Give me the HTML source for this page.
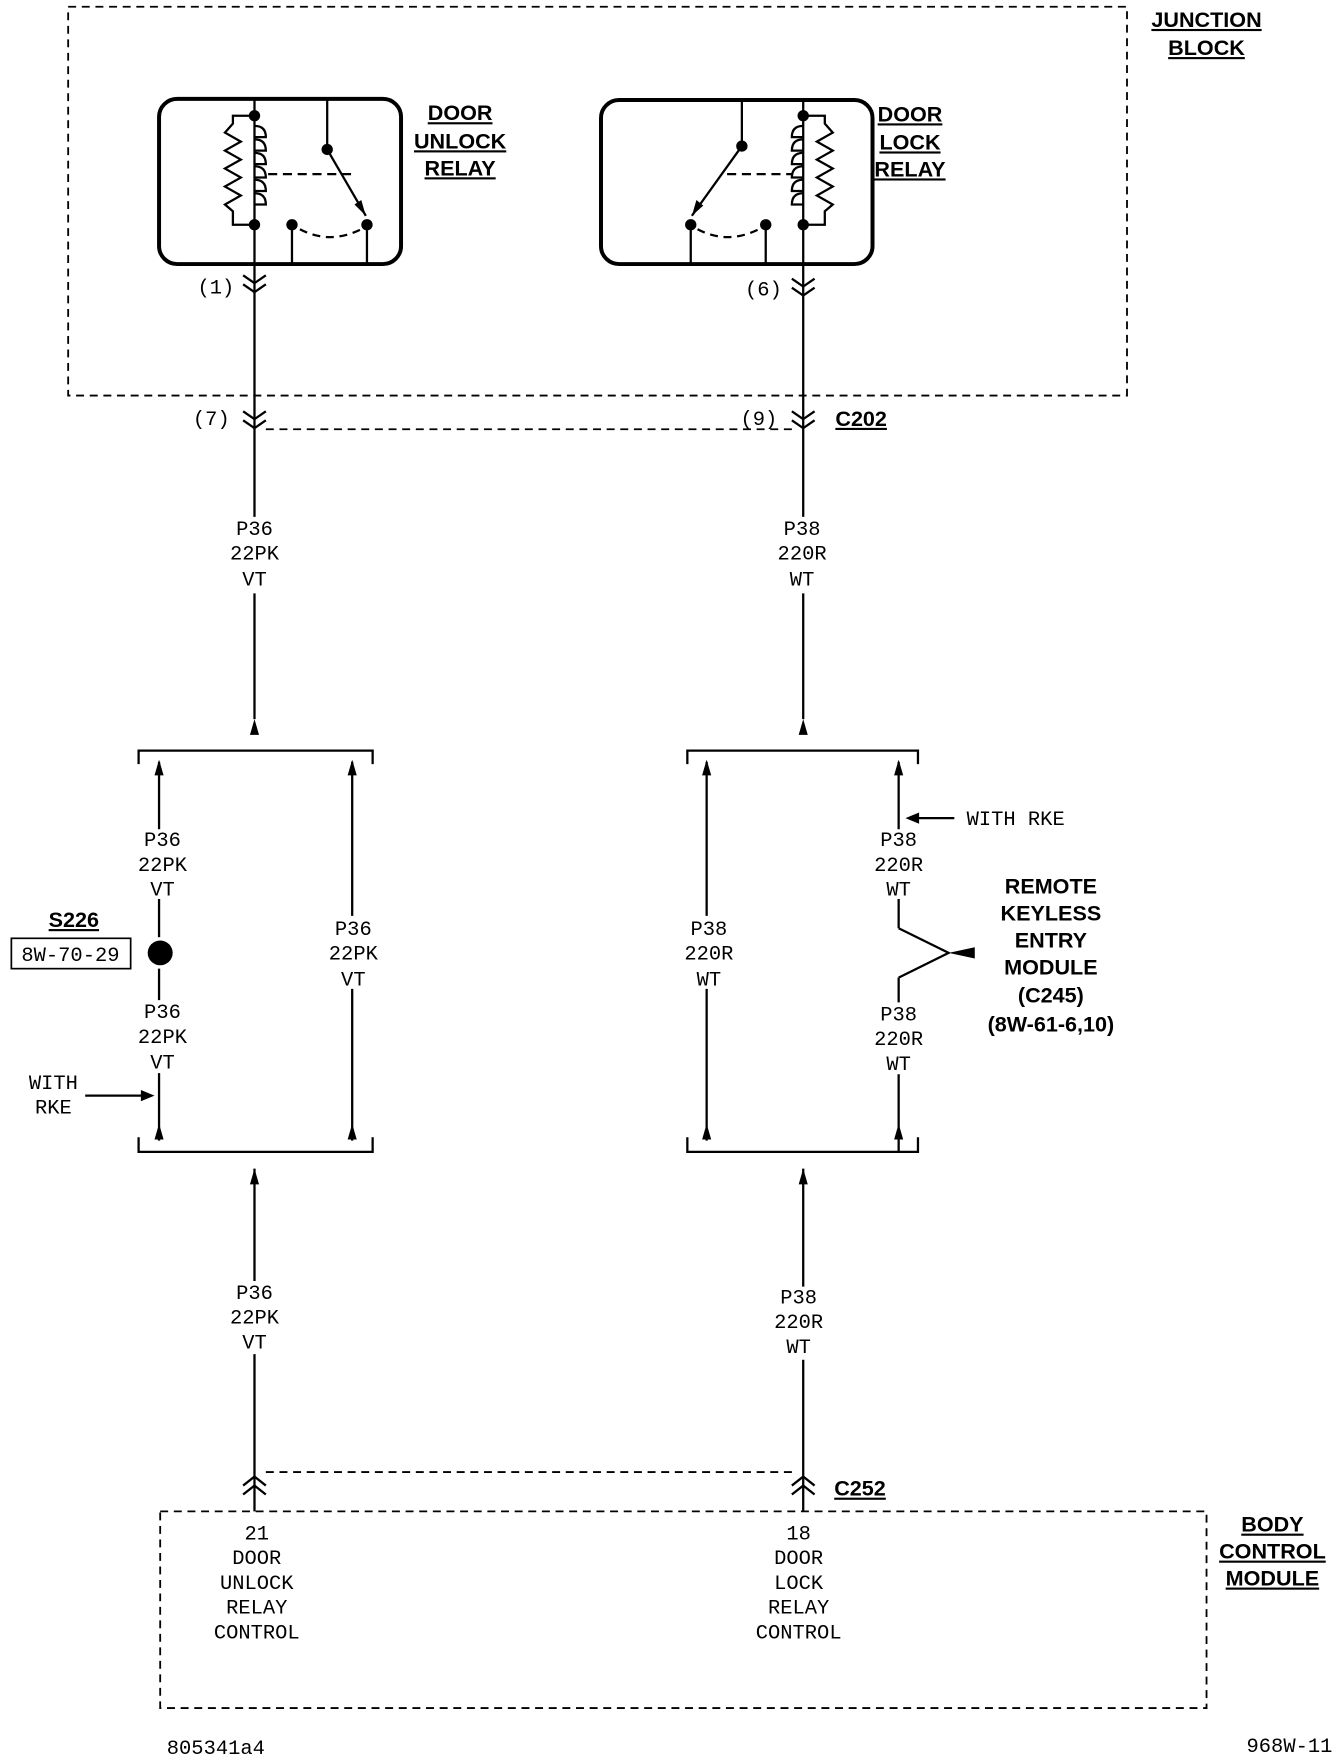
<!DOCTYPE html>
<html><head><meta charset="utf-8"><style>
html,body{margin:0;padding:0;background:#fff;}
svg{display:block;}
text{font-family:"Liberation Mono",monospace;font-size:18px;fill:#000;text-anchor:middle;}
.b{font-family:"Liberation Sans",sans-serif;font-weight:bold;font-size:19px;}
</style></head><body>
<svg width="1344" height="1762" viewBox="0 0 1183 1568" preserveAspectRatio="none" xmlns="http://www.w3.org/2000/svg">
<defs>
<marker id="au" markerWidth="8" markerHeight="12" refX="4" refY="0" orient="auto" markerUnits="userSpaceOnUse"><path d="M0,12 L4,0 L8,12Z"/></marker>
</defs>
<g fill="none" stroke="#000" stroke-width="2">
<!-- junction block -->
<rect x="60" y="6" width="932" height="346" stroke-dasharray="7,5" stroke-width="1.6"/>
<!-- unlock relay -->
<rect x="140" y="88" width="213" height="147" rx="16" stroke-width="3.5"/>
<line x1="224" y1="88" x2="224" y2="235"/>
<path d="M224,103 H205 V110 L198,118 L212,126 L198,134 L212,142 L198,150 L212,158 L198,166 L212,174 L198,182 L205,188 V200 H224"/>
<path d="M224,112 q10,0 10,10 q-10,0 -10,0 M224,124 q10,0 10,10 q-10,0 -10,0 M224,136 q10,0 10,10 q-10,0 -10,0 M224,148 q10,0 10,10 q-10,0 -10,0 M224,160 q10,0 10,10 q-10,0 -10,0 M224,172 q10,0 10,10 q-10,0 -10,0" />
<line x1="236" y1="155" x2="312" y2="155" stroke-dasharray="8,5"/>
<line x1="288" y1="88" x2="288" y2="133"/>
<line x1="288" y1="133" x2="322" y2="192"/>
<path d="M264,204 Q290,218 318,204" stroke-dasharray="7,5"/>
<line x1="257" y1="200" x2="257" y2="235"/>
<line x1="323" y1="200" x2="323" y2="235"/>
<!-- lock relay -->
<rect x="529" y="89" width="239" height="146" rx="16" stroke-width="3.5"/>
<line x1="707" y1="89" x2="707" y2="235"/>
<path d="M707,103 H726 V110 L733,118 L719,126 L733,134 L719,142 L733,150 L719,158 L733,166 L719,174 L733,182 L726,188 V200 H707"/>
<path d="M707,112 q-10,0 -10,10 q10,0 10,0 M707,124 q-10,0 -10,10 q10,0 10,0 M707,136 q-10,0 -10,10 q10,0 10,0 M707,148 q-10,0 -10,10 q10,0 10,0 M707,160 q-10,0 -10,10 q10,0 10,0 M707,172 q-10,0 -10,10 q10,0 10,0"/>
<line x1="640" y1="155" x2="697" y2="155" stroke-dasharray="8,5"/>
<line x1="653" y1="89" x2="653" y2="130"/>
<line x1="653" y1="130" x2="609" y2="192"/>
<path d="M614,204 Q640,218 668,204" stroke-dasharray="7,5"/>
<line x1="608" y1="200" x2="608" y2="235"/>
<line x1="674" y1="200" x2="674" y2="235"/>
<!-- wires top -->
<line x1="224" y1="235" x2="224" y2="460"/>
<line x1="224" y1="528" x2="224" y2="640"/>
<line x1="707" y1="235" x2="707" y2="460"/>
<line x1="707" y1="528" x2="707" y2="640"/>
<!-- chevrons -->
<path d="M214,245 L224,252 L234,245 M214,253 L224,260 L234,253"/>
<path d="M697,248 L707,255 L717,248 M697,256 L707,263 L717,256"/>
<path d="M214,366 L224,373 L234,366 M214,374 L224,381 L234,374"/>
<path d="M697,366 L707,373 L717,366 M697,374 L707,381 L717,374"/>
<line x1="234" y1="382" x2="697" y2="382" stroke-dasharray="7,5" stroke-width="1.6"/>
<!-- left brackets -->
<path d="M122,680 V668 H328 V680"/>
<path d="M122,1012 V1025 H328 V1012"/>
<line x1="140" y1="678" x2="140" y2="738"/>
<line x1="140" y1="800" x2="140" y2="834"/>
<line x1="140" y1="862" x2="140" y2="890"/>
<line x1="140" y1="955" x2="140" y2="1015"/>
<line x1="310" y1="678" x2="310" y2="815"/>
<line x1="310" y1="880" x2="310" y2="1015"/>
<!-- right brackets -->
<path d="M605,680 V668 H808 V680"/>
<path d="M605,1012 V1025 H808 V1012"/>
<line x1="622" y1="678" x2="622" y2="815"/>
<line x1="622" y1="880" x2="622" y2="1015"/>
<line x1="791" y1="678" x2="791" y2="738"/>
<line x1="791" y1="800" x2="791" y2="826"/>
<path d="M791,826 L835,848 L791,870"/>
<line x1="791" y1="870" x2="791" y2="892"/>
<line x1="791" y1="956" x2="791" y2="1025"/>
<!-- lower wires -->
<line x1="224" y1="1040" x2="224" y2="1140"/>
<line x1="224" y1="1205" x2="224" y2="1345"/>
<line x1="707" y1="1040" x2="707" y2="1145"/>
<line x1="707" y1="1210" x2="707" y2="1345"/>
<path d="M214,1322 L224,1314 L234,1322 M214,1330 L224,1322 L234,1330"/>
<path d="M697,1322 L707,1314 L717,1322 M697,1330 L707,1322 L717,1330"/>
<line x1="234" y1="1310" x2="697" y2="1310" stroke-dasharray="7,5" stroke-width="1.6"/>
<rect x="141" y="1345" width="921" height="175" stroke-dasharray="7,5" stroke-width="1.6"/>
<!-- S226 box -->
<rect x="10" y="835" width="105" height="27" stroke-width="1.5"/>
<!-- with rke arrows -->
<line x1="75" y1="975" x2="128" y2="975"/>
<line x1="805" y1="728" x2="840" y2="728"/>
</g>
<g fill="#000">
<circle cx="224" cy="103" r="5"/><circle cx="224" cy="200" r="5"/><circle cx="288" cy="133" r="5"/><circle cx="257" cy="200" r="5"/><circle cx="323" cy="200" r="5"/>
<circle cx="707" cy="103" r="5"/><circle cx="707" cy="200" r="5"/><circle cx="653" cy="130" r="5"/><circle cx="608" cy="200" r="5"/><circle cx="674" cy="200" r="5"/>
<path d="M322,192 L312,182 L318,178Z"/><path d="M609,192 L613,178 L619,183Z"/>
<circle cx="141" cy="848" r="11"/>
<!-- arrowheads up -->
<path d="M220,654 L224,640 L228,654Z"/><path d="M703,654 L707,640 L711,654Z"/>
<path d="M136,690 L140,676 L144,690Z"/><path d="M306,690 L310,676 L314,690Z"/>
<path d="M618,690 L622,676 L626,690Z"/><path d="M787,690 L791,676 L795,690Z"/>
<path d="M136,1014 L140,1000 L144,1014Z"/><path d="M306,1014 L310,1000 L314,1014Z"/>
<path d="M618,1014 L622,1000 L626,1014Z"/><path d="M787,1014 L791,1000 L795,1014Z"/>
<path d="M220,1054 L224,1040 L228,1054Z"/><path d="M703,1054 L707,1040 L711,1054Z"/>
<path d="M136,975 L124,970 L124,980Z"/><path d="M797,728 L809,723 L809,733Z"/>
<path d="M835,848 L858,843 L858,853Z"/>
</g>
<g>
<text x="190" y="261">(1)</text><text x="672" y="263">(6)</text>
<text x="186" y="378">(7)</text><text x="668" y="378">(9)</text>
<text x="224" y="476">P36</text><text x="224" y="498">22PK</text><text x="224" y="521">VT</text>
<text x="706" y="476">P38</text><text x="706" y="498">220R</text><text x="706" y="521">WT</text>
<text x="143" y="753">P36</text><text x="143" y="775">22PK</text><text x="143" y="797">VT</text>
<text x="143" y="906">P36</text><text x="143" y="928">22PK</text><text x="143" y="951">VT</text>
<text x="311" y="832">P36</text><text x="311" y="854">22PK</text><text x="311" y="877">VT</text>
<text x="624" y="832">P38</text><text x="624" y="854">220R</text><text x="624" y="877">WT</text>
<text x="791" y="753">P38</text><text x="791" y="775">220R</text><text x="791" y="797">WT</text>
<text x="791" y="908">P38</text><text x="791" y="930">220R</text><text x="791" y="952">WT</text>
<text x="224" y="1156">P36</text><text x="224" y="1178">22PK</text><text x="224" y="1200">VT</text>
<text x="703" y="1160">P38</text><text x="703" y="1182">220R</text><text x="703" y="1204">WT</text>
<text x="62" y="855">8W-70-29</text>
<text x="47" y="969">WITH</text><text x="47" y="991">RKE</text>
<text x="894" y="734">WITH RKE</text>
<text x="226" y="1370">21</text><text x="226" y="1392">DOOR</text><text x="226" y="1414">UNLOCK</text><text x="226" y="1436">RELAY</text><text x="226" y="1458">CONTROL</text>
<text x="703" y="1370">18</text><text x="703" y="1392">DOOR</text><text x="703" y="1414">LOCK</text><text x="703" y="1436">RELAY</text><text x="703" y="1458">CONTROL</text>
<text x="190" y="1561">805341a4</text><text x="1135" y="1559">968W-11</text>
</g>
<g class="bt">
<text class="b" x="1062" y="24" text-decoration="underline">JUNCTION</text>
<text class="b" x="1062" y="49" text-decoration="underline">BLOCK</text>
<text class="b" x="405" y="107" text-decoration="underline">DOOR</text>
<text class="b" x="405" y="132" text-decoration="underline">UNLOCK</text>
<text class="b" x="405" y="156" text-decoration="underline">RELAY</text>
<text class="b" x="801" y="108" text-decoration="underline">DOOR</text>
<text class="b" x="801" y="133" text-decoration="underline">LOCK</text>
<text class="b" x="801" y="157" text-decoration="underline">RELAY</text>
<text class="b" x="758" y="379" text-decoration="underline">C202</text>
<text class="b" x="65" y="825" text-decoration="underline">S226</text>
<text class="b" x="925" y="795">REMOTE</text>
<text class="b" x="925" y="819">KEYLESS</text>
<text class="b" x="925" y="843">ENTRY</text>
<text class="b" x="925" y="867">MODULE</text>
<text class="b" x="925" y="892">(C245)</text>
<text class="b" x="925" y="918">(8W-61-6,10)</text>
<text class="b" x="757" y="1331" text-decoration="underline">C252</text>
<text class="b" x="1120" y="1363" text-decoration="underline">BODY</text>
<text class="b" x="1120" y="1387" text-decoration="underline">CONTROL</text>
<text class="b" x="1120" y="1411" text-decoration="underline">MODULE</text>
</g>
</svg>
</body></html>
